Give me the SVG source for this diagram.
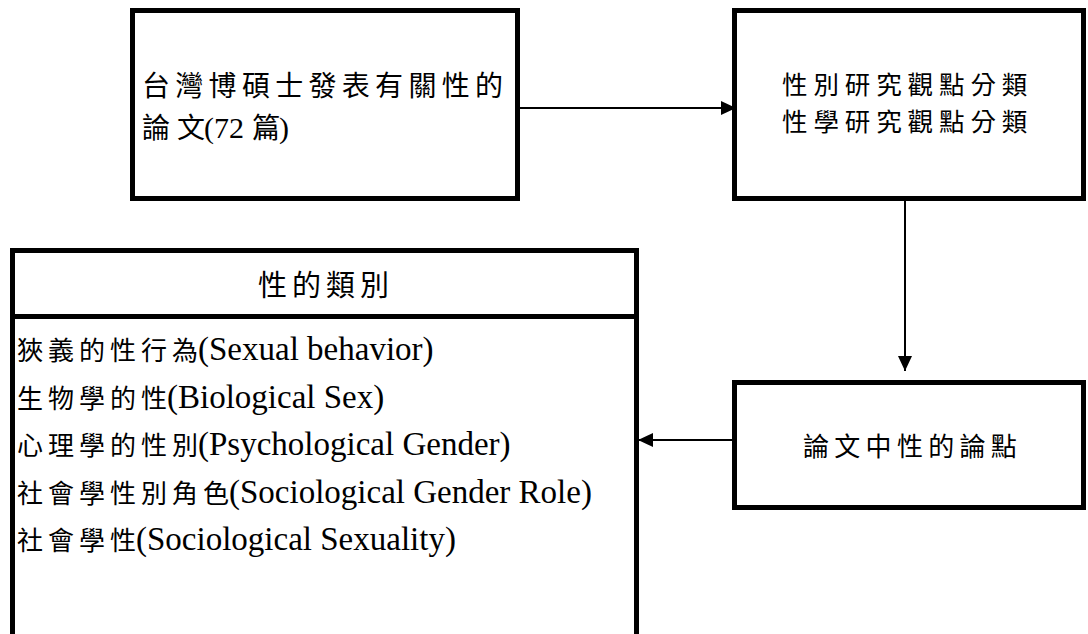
<svg xmlns="http://www.w3.org/2000/svg" width="1088" height="634" viewBox="0 0 1088 634">
<style>
.box{fill:#fff;stroke:#000;stroke-width:5}
.conn{stroke:#000;stroke-width:2;fill:none}
.t{font-family:"Liberation Serif","Noto Sans CJK TC",serif;fill:#000}
.cj{font-family:"Noto Sans CJK TC","Liberation Serif",sans-serif}
.la{font-family:"Liberation Serif","Times New Roman",serif}
.lc{font-size:26px;letter-spacing:5px}
.lc0{font-size:26px}
.ll{font-size:33px}
</style>
<defs>
<marker id="ah" viewBox="0 0 15 14" refX="15" refY="7" markerWidth="15" markerHeight="14" orient="auto" markerUnits="userSpaceOnUse">
<path d="M0,0 L15,7 L0,14 z" fill="#000"/>
</marker>
</defs>
<rect width="1088" height="634" fill="#fff"/>
<g id="connectors">
<path class="conn" d="M520,108 H736" marker-end="url(#ah)"/>
<path class="conn" d="M905,201 V371" marker-end="url(#ah)"/>
<path class="conn" d="M732,440 H638" marker-end="url(#ah)"/>
</g>
<g id="node-theses">
<rect class="box" x="132.5" y="10.5" width="385" height="188"/>
<text class="t" y="96"><tspan class="cj" x="142" font-size="28" letter-spacing="5.3">台灣博碩士發表有關性的</tspan></text>
<text class="t" y="138"><tspan class="cj" x="142" font-size="28">論</tspan><tspan class="cj" x="177" font-size="28">文</tspan><tspan class="la" x="204" font-size="30">(72</tspan><tspan class="cj" x="252" font-size="28">篇</tspan><tspan class="la" x="279" font-size="30">)</tspan></text>
</g>
<g id="node-perspectives">
<rect class="box" x="734.5" y="10.5" width="349" height="188"/>
<text class="t cj" x="782" y="94" font-size="25.5" letter-spacing="5.9">性別研究觀點分類</text>
<text class="t cj" x="782" y="131" font-size="25.5" letter-spacing="5.9">性學研究觀點分類</text>
</g>
<g id="node-arguments">
<rect class="box" x="734.5" y="382.5" width="349" height="125"/>
<text class="t cj" x="803" y="456" font-size="26" letter-spacing="5.3">論文中性的論點</text>
</g>
<g id="node-categories">
<rect class="box" x="12.5" y="316.5" width="624" height="340"/>
<rect class="box" x="12.5" y="250.5" width="624" height="66"/>
<text class="t cj" x="258" y="296" font-size="29" letter-spacing="5">性的類別</text>
<text class="t" y="360"><tspan class="cj lc" x="17">狹義的性行</tspan><tspan class="cj lc0">為</tspan><tspan class="la ll">(Sexual behavior)</tspan></text>
<text class="t" y="407.5"><tspan class="cj lc" x="17">生物學的</tspan><tspan class="cj lc0">性</tspan><tspan class="la ll">(Biological Sex)</tspan></text>
<text class="t" y="455"><tspan class="cj lc" x="17">心理學的性</tspan><tspan class="cj lc0">別</tspan><tspan class="la ll">(Psychological Gender)</tspan></text>
<text class="t" y="502.5"><tspan class="cj lc" x="17">社會學性別角</tspan><tspan class="cj lc0">色</tspan><tspan class="la ll">(Sociological Gender Role)</tspan></text>
<text class="t" y="550"><tspan class="cj lc" x="17">社會學</tspan><tspan class="cj lc0">性</tspan><tspan class="la ll">(Sociological Sexuality)</tspan></text>
</g>
</svg>
